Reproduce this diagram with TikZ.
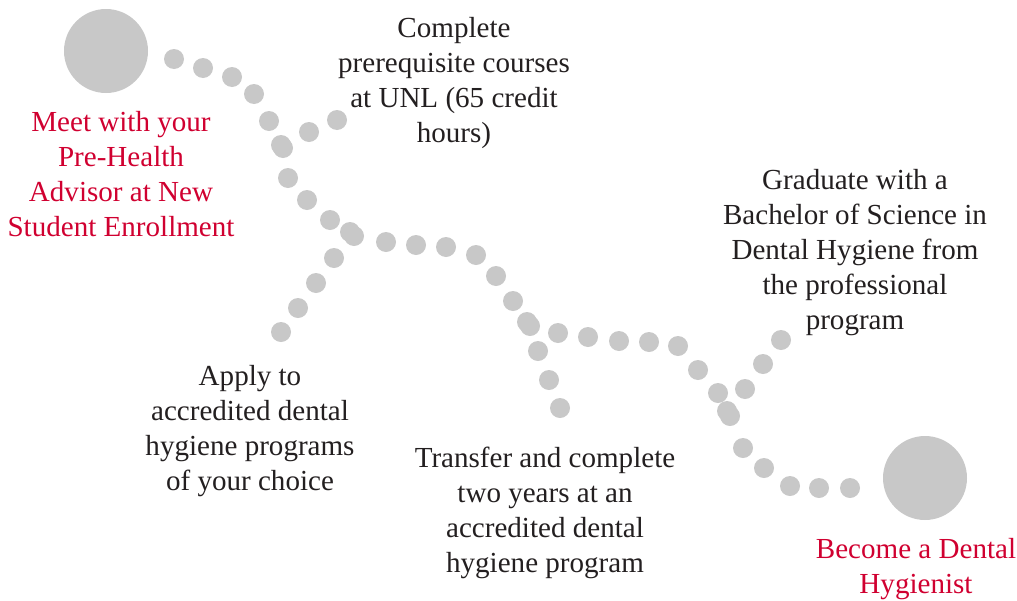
\documentclass[tikz,border=0pt]{standalone}
\usepackage{fontspec}
\setmainfont{Liberation Serif}
\definecolor{dotgray}{HTML}{C8C8C8}
\definecolor{unlred}{HTML}{D00030}
\definecolor{txtdark}{HTML}{231F20}
\tikzset{
  dot/.style={circle, fill=dotgray, inner sep=0pt, minimum size=15pt},
  bigdot/.style={circle, fill=dotgray, inner sep=0pt, minimum size=63pt},
  steptext/.style={align=center, text=txtdark, font=\fontsize{21.8}{26.25}\selectfont, inner sep=0pt},
  goaltext/.style={steptext, text=unlred}
}
\begin{document}
\begin{tikzpicture}[x=0.75pt, y=-0.75pt]
\useasboundingbox (0,0) rectangle (1017,600);
% start and finish
\node[bigdot] (start) at (106,51){};
\node[bigdot] (finish) at (925,478){};
% main path
\node[dot] (m1) at (174,59){};
\node[dot] (m2) at (203,68){};
\node[dot] (m3) at (232,77){};
\node[dot] (m4) at (254,94){};
\node[dot] (m5) at (269,121){};
\node[dot] (m6a) at (281,145){};
\node[dot] (m6) at (283,148){};
\node[dot] (m7) at (288,178){};
\node[dot] (m8) at (307,200){};
\node[dot] (m9) at (330,220){};
\node[dot] (m10a) at (350,232){};
\node[dot] (m10) at (354,236){};
\node[dot] (m11) at (386,242){};
\node[dot] (m12) at (416,245){};
\node[dot] (m13) at (446,247){};
\node[dot] (m14) at (476,255){};
\node[dot] (m15) at (496,276){};
\node[dot] (m16) at (513,301){};
\node[dot] (m17a) at (527,322){};
\node[dot] (m17) at (530,326){};
\node[dot] (m18) at (558,333){};
\node[dot] (m19) at (588,337){};
\node[dot] (m20) at (619,341){};
\node[dot] (m21) at (649,342){};
\node[dot] (m22) at (678,346){};
\node[dot] (m23) at (698,370){};
\node[dot] (m24) at (718,393){};
\node[dot] (m25a) at (727,411){};
\node[dot] (m25) at (730,416){};
\node[dot] (m26) at (743,448){};
\node[dot] (m27) at (764,468){};
\node[dot] (m28) at (790,486){};
\node[dot] (m29) at (819,488){};
\node[dot] (m30) at (850,488){};
% side branches
\node[dot] (p1) at (309,132){};
\node[dot] (p2) at (337,120){};
\node[dot] (a1) at (334,258){};
\node[dot] (a2) at (316,283){};
\node[dot] (a3) at (298,308){};
\node[dot] (a4) at (281,332){};
\node[dot] (t1) at (538,351){};
\node[dot] (t2) at (549,380){};
\node[dot] (t3) at (560,408){};
\node[dot] (g1) at (745,389){};
\node[dot] (g2) at (763,364){};
\node[dot] (g3) at (781,340){};
% labels
\node[goaltext] (meet) at (121,174) {Meet with your\\Pre-Health\\Advisor at New\\Student Enrollment};
\node[steptext] (prereq) at (454,83) {Complete\\prerequisite courses\\at UNL (65 credit\\hours)};
\node[steptext] (apply) at (250,431) {Apply to\\accredited dental\\hygiene programs\\of your choice};
\node[steptext] (transfer) at (545,513) {Transfer and complete\\two years at an\\accredited dental\\hygiene program};
\node[steptext] (grad) at (855,253) {Graduate with a\\Bachelor of Science in\\Dental Hygiene from\\the professional\\program};
\node[goaltext] (become) at (916,569) {Become a Dental\\Hygienist};
\end{tikzpicture}
\end{document}
